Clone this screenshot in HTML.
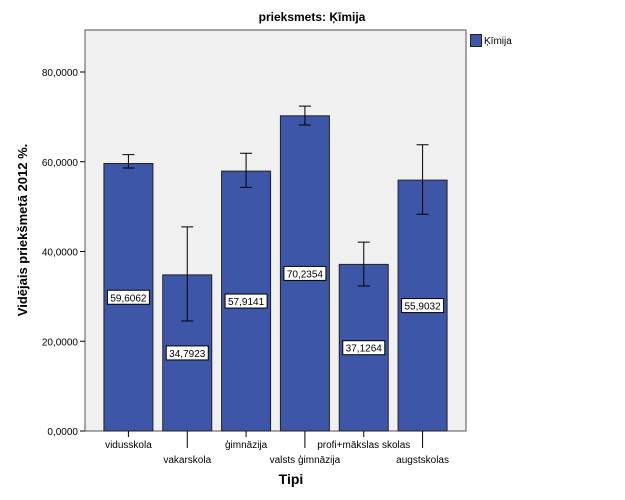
<!DOCTYPE html>
<html><head><meta charset="utf-8"><style>
body{margin:0;background:#fff;}
svg{display:block;font-family:"Liberation Sans",Arial,sans-serif;}
</style></head><body>
<svg width="625" height="500" viewBox="0 0 625 500">
<text x="312" y="21" text-anchor="middle" font-size="12" font-weight="bold">prieksmets: Ķīmija</text>
<rect x="85" y="30" width="381" height="401" fill="#f0f0f0" stroke="#555" stroke-width="1"/>
<g id="yaxis"></g>
<g id="bars"></g>
<g id="xaxis"></g>
<text transform="translate(27,230) rotate(-90)" text-anchor="middle" font-size="13" font-weight="bold">Vidējais priekšmetā 2012 %.</text>
<text x="291" y="484" text-anchor="middle" font-size="14" font-weight="bold">Tipi</text>
<g>
<rect x="470.5" y="34.5" width="11" height="12" fill="#3e56a8" stroke="#222"/>
<text x="484" y="44" font-size="10">Ķīmija</text>
</g>
</svg>
<script>
const categories=["vidusskola","vakarskola","ģimnāzija","valsts ģimnāzija","profi+mākslas skolas","augstskolas"];
const values=[59.6062,34.7923,57.9141,70.2354,37.1264,55.9032];
const valueLabels=["59,6062","34,7923","57,9141","70,2354","37,1264","55,9032"];
const errLow=[58.6,24.5,54.3,68.2,32.3,48.3];
const errHigh=[61.6,45.5,61.9,72.4,42.1,63.8];
const yTicks=[0,20,40,60,80];
const yTickLabels=["0,0000","20,0000","40,0000","60,0000","80,0000"];
const NS="http://www.w3.org/2000/svg";
const x0=85,x1=466,y0=431,yTop=72,vTop=80;
const y=v=>y0-(v/vTop)*(y0-yTop);
const pad=14,band=(x1-x0-2*pad)/categories.length;
const xc=i=>x0+pad+band*(i+0.5);
function mk(t,a,p){const e=document.createElementNS(NS,t);for(const k in a)e.setAttribute(k,a[k]);p.appendChild(e);return e;}
const ya=document.getElementById('yaxis');
yTicks.forEach((v,i)=>{
 const l=mk('line',{x1:x0-5,x2:x0,y1:y(v),y2:y(v),stroke:'#000'},ya);
 
 
 const t=mk('text',{x:x0-7,y:y(v)+4,'text-anchor':'end','font-size':'10'},ya);
 t.textContent=yTickLabels[i];
 
 
});
const bg=document.getElementById('bars');
const xa=document.getElementById('xaxis');
const bw=49;
categories.forEach((c,i)=>{
 const cx=xc(i);
 const r=mk('rect',{x:cx-bw/2,y:y(values[i]),width:bw,height:y0-y(values[i]),fill:'#3e56a8',stroke:'#222','stroke-width':1},bg);
 
 
 const eb=mk('path',{d:`M${cx},${y(errLow[i])}V${y(errHigh[i])}M${cx-6},${y(errLow[i])}H${cx+6}M${cx-6},${y(errHigh[i])}H${cx+6}`,stroke:'#000',fill:'none'},bg);
 
 
 const my=(y(values[i])+y0)/2;
 const lb=mk('rect',{x:cx-21,y:my-7,width:42,height:14,fill:'#fff',stroke:'#000'},bg);
 
 
 const lt=mk('text',{x:cx,y:my+4,'text-anchor':'middle','font-size':'10'},bg);
 lt.textContent=valueLabels[i];
 
 
 const low=i%2===1;
 const tk=mk('line',{x1:cx,x2:cx,y1:y0,y2:y0+(low?17:6),stroke:'#000'},xa);
 
 
 const tt=mk('text',{x:cx,y:y0+(low?32:17),'text-anchor':'middle','font-size':'10'},xa);
 tt.textContent=c;
 
 
});
</script>
</body></html>
